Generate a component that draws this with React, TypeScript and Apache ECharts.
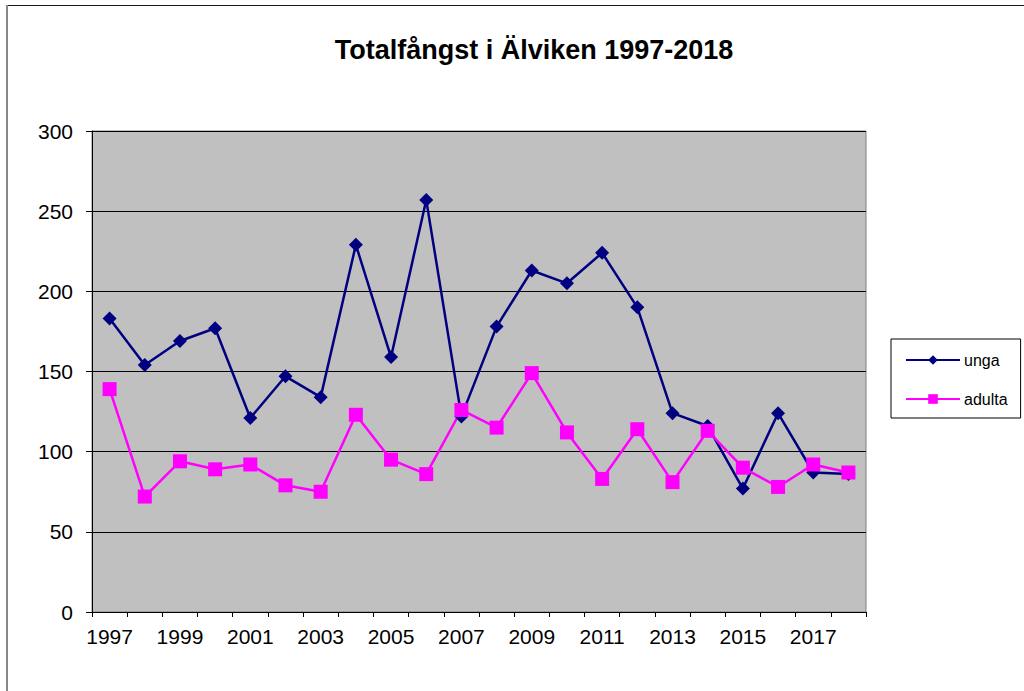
import React, { useEffect, useRef } from "react";
import * as echarts from "echarts";

const years = ["1997","1998","1999","2000","2001","2002","2003","2004","2005","2006","2007","2008","2009","2010","2011","2012","2013","2014","2015","2016","2017","2018"];
const unga = [183,154,169,177,121,147,134,229,159,257,122,178,213,205,224,190,124,116,77,124,87,86];
const adulta = [139,72,94,89,92,79,75,123,95,86,126,115,149,112,83,114,81,113,90,78,92,87];
const yTicks = { min: 0, max: 300, interval: 50 };
const titleText = "Totalfångst i Älviken 1997-2018";

export default function App() {
  const ref = useRef<HTMLDivElement>(null);
  useEffect(() => {
    if (!ref.current) return;
    const chart = echarts.init(ref.current, null, { renderer: "svg" });
    const font = "'Liberation Sans', Arial, sans-serif";
    chart.setOption({
      animation: false,
      backgroundColor: "#ffffff",
      textStyle: { fontFamily: font, color: "#000" },
      title: {
        text: titleText,
        left: 534,
        textAlign: "center",
        top: 36,
        padding: 0,
        textStyle: { fontFamily: font, fontSize: 27, fontWeight: "bold", color: "#000" },
      },
      legend: {
        orient: "vertical",
        left: 891,
        top: 339,
        padding: [13, 13, 11, 14],
        backgroundColor: "#ffffff",
        borderColor: "#000",
        borderWidth: 1,
        borderRadius: 0,
        itemWidth: 54,
        itemHeight: 12,
        itemGap: 23,
        textStyle: { fontFamily: font, fontSize: 16, color: "#000", padding: [0, 0, 0, -1] },
        data: ["unga", "adulta"],
      },
      grid: {
        left: 92,
        right: 158,
        top: 131,
        height: 481,
        show: true,
        backgroundColor: "#c0c0c0",
        borderColor: "#808080",
        borderWidth: 1,
        containLabel: false,
      },
      xAxis: {
        type: "category",
        data: years,
        boundaryGap: true,
        axisLine: { lineStyle: { color: "#000", width: 1 } },
        axisTick: { show: true, interval: 0, length: 5, lineStyle: { color: "#000" } },
        axisLabel: { interval: 1, fontFamily: font, fontSize: 21, color: "#000", margin: 14 },
        splitLine: { show: false },
      },
      yAxis: {
        type: "value",
        min: yTicks.min,
        max: yTicks.max,
        interval: yTicks.interval,
        axisLine: { show: true, lineStyle: { color: "#000", width: 1 } },
        axisTick: { show: true, length: 6, lineStyle: { color: "#000" } },
        axisLabel: { fontFamily: font, fontSize: 21, color: "#000", margin: 19 },
        splitLine: { show: true, lineStyle: { color: "#000", width: 1 } },
      },
      graphic: [
        { type: "line", shape: { x1: 6, y1: 5.5, x2: 1024, y2: 5.5 }, style: { stroke: "#1a1a1a", lineWidth: 1 }, z: 100 },
        { type: "line", shape: { x1: 7, y1: 5, x2: 7, y2: 691 }, style: { stroke: "#888888", lineWidth: 2 }, z: 100 },
      ],
      series: [
        {
          name: "unga",
          type: "line",
          data: unga,
          color: "#000080",
          symbol: "diamond",
          symbolSize: 14,
          lineStyle: { color: "#000080", width: 2.5 },
          itemStyle: { color: "#000080" },
        },
        {
          name: "adulta",
          type: "line",
          data: adulta,
          color: "#ff00ff",
          symbol: "rect",
          symbolSize: 14,
          lineStyle: { color: "#ff00ff", width: 2.5 },
          itemStyle: { color: "#ff00ff" },
        },
      ],
    });
    return () => chart.dispose();
  }, []);
  return <div ref={ref} style={{ position: "fixed", left: 0, top: 0, width: 1024, height: 691 }} />;
}
